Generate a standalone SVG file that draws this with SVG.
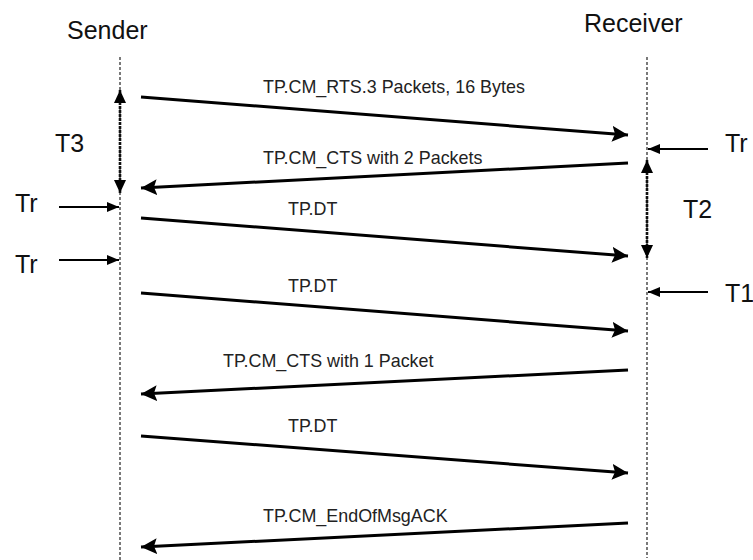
<svg xmlns="http://www.w3.org/2000/svg" width="753" height="560" viewBox="0 0 753 560">
  <style>
    .big { font-family: "Liberation Sans", Arial, sans-serif; font-size: 25px; fill: #111; }
    .lbl { font-family: "Liberation Sans", Arial, sans-serif; font-size: 17.9px; fill: #222; }
    .life { stroke: #222; stroke-width: 1.2; stroke-dasharray: 3 2; fill: none; }
    .msg { stroke: #000; stroke-width: 3; fill: none; marker-end: url(#head); }
    .tick { stroke: #000; stroke-width: 1.8; fill: none; marker-end: url(#small); }
    .span { stroke: #111; stroke-width: 2.6; stroke-dasharray: 3 1; fill: none; marker-start: url(#dbl); marker-end: url(#dbl); }
  </style>
  <defs>
    <marker id="head" markerUnits="userSpaceOnUse" markerWidth="18" markerHeight="18" refX="16" refY="8" orient="auto">
      <path d="M0,0 L16,8 L0,16 L3,8 z" fill="#000"/>
    </marker>
    <marker id="small" markerUnits="userSpaceOnUse" markerWidth="14" markerHeight="12" refX="12" refY="5" orient="auto">
      <path d="M0,0 L12,5 L0,10 z" fill="#000"/>
    </marker>
    <marker id="dbl" markerUnits="userSpaceOnUse" markerWidth="14" markerHeight="14" refX="13" refY="6" orient="auto-start-reverse">
      <path d="M0,0 L13,6 L0,12 z" fill="#000"/>
    </marker>
  </defs>
  <rect width="753" height="560" fill="#fff"/>

  <g id="sender">
    <text class="big" x="67" y="39">Sender</text>
    <line class="life" x1="120" y1="57" x2="120" y2="560"/>
  </g>
  <g id="receiver">
    <text class="big" x="584" y="32">Receiver</text>
    <line class="life" x1="647" y1="57" x2="647" y2="558"/>
  </g>

  <g id="timers">
    <text class="big" x="55" y="152">T3</text>
    <text class="big" x="15" y="212">Tr</text>
    <text class="big" x="15" y="273">Tr</text>
    <text class="big" x="725" y="152">Tr</text>
    <text class="big" x="683" y="218">T2</text>
    <text class="big" x="725" y="302">T1</text>
  </g>

  <g id="labels">
    <text class="lbl" x="263" y="93">TP.CM_RTS.3 Packets, 16 Bytes</text>
    <text class="lbl" x="263" y="164">TP.CM_CTS with 2 Packets</text>
    <text class="lbl" x="288" y="215">TP.DT</text>
    <text class="lbl" x="288" y="292">TP.DT</text>
    <text class="lbl" x="223" y="367">TP.CM_CTS with 1 Packet</text>
    <text class="lbl" x="288" y="432">TP.DT</text>
    <text class="lbl" x="263" y="522">TP.CM_EndOfMsgACK</text>
  </g>

  <g id="connectors">
    <line class="msg" x1="141" y1="97" x2="628" y2="135"/>
    <line class="msg" x1="628" y1="163" x2="141" y2="188"/>
    <line class="msg" x1="141" y1="218" x2="628" y2="256"/>
    <line class="msg" x1="141" y1="293" x2="628" y2="331"/>
    <line class="msg" x1="628" y1="370" x2="141" y2="394"/>
    <line class="msg" x1="141" y1="436" x2="628" y2="473"/>
    <line class="msg" x1="628" y1="523" x2="141" y2="547"/>

    <line class="span" x1="120" y1="90" x2="120" y2="193"/>
    <line class="span" x1="647" y1="160" x2="647" y2="258"/>

    <line class="tick" x1="59" y1="207" x2="119" y2="207"/>
    <line class="tick" x1="59" y1="260" x2="119" y2="260"/>
    <line class="tick" x1="708" y1="149" x2="648" y2="149"/>
    <line class="tick" x1="708" y1="292" x2="648" y2="292"/>
  </g>
</svg>
